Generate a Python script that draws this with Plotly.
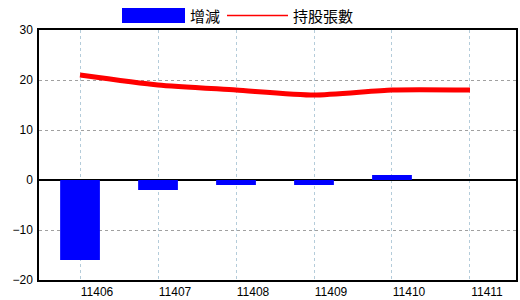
import plotly.graph_objects as go

categories = ["11406", "11407", "11408", "11409", "11410", "11411"]
change = [-16, -2, -1, -1, 1, 0]
holdings = [21, 19, 18, 17, 18, 18]
y_ticks = [-20, -10, 0, 10, 20, 30]

W, H = 520, 300
L, R, T, B = 39, 4, 30, 20
pw, ph = W - L - R, H - T - B


def px(x):
    return (x - L) / pw


def py(y):
    return (H - B - y) / ph


fig = go.Figure()
fig.add_trace(go.Bar(x=categories, y=change, name="增減", marker_color="#0000FF",
                     marker_line_width=0, showlegend=False))
fig.add_trace(go.Scatter(x=categories, y=holdings, name="持股張數", mode="lines",
                         line=dict(color="#FF0000", width=5, shape="spline", smoothing=0.6),
                         showlegend=False))

# manual legend
fig.add_shape(type="rect", xref="paper", yref="paper", x0=px(122), x1=px(185),
              y0=py(23), y1=py(8), fillcolor="#0000FF", line_width=0)
fig.add_shape(type="line", xref="paper", yref="paper", x0=px(227), x1=px(288),
              y0=py(15.5), y1=py(15.5), line=dict(color="#FF0000", width=1.5))
fig.add_annotation(text="增減", xref="paper", yref="paper", x=px(188), y=py(16),
                   xanchor="left", yanchor="middle", showarrow=False,
                   font=dict(family="Noto Sans CJK TC", size=15, color="#000"))
fig.add_annotation(text="持股張數", xref="paper", yref="paper", x=px(291), y=py(16),
                   xanchor="left", yanchor="middle", showarrow=False,
                   font=dict(family="Noto Sans CJK TC", size=15, color="#000"))

fig.update_layout(
    width=W, height=H,
    margin=dict(l=L, r=R, t=T, b=B, autoexpand=False),
    paper_bgcolor="white", plot_bgcolor="white",
    bargap=0.49,
    font=dict(family="Liberation Sans", size=12, color="#000"),
    xaxis=dict(
        type="category",
        range=[-0.526, 5.59],
        automargin=False,
        showgrid=True, gridcolor="#B4CCDA", griddash="dot", gridwidth=1,
        showline=True, linecolor="#000", linewidth=1.5, mirror=True,
        ticks="", ticklabelshift=17, ticklabelstandoff=0,
        tickfont=dict(size=12),
    ),
    yaxis=dict(
        range=[-20, 30],
        tickvals=y_ticks,
        automargin=False,
        showgrid=True, gridcolor="#A0A0A0", griddash="dot", gridwidth=1,
        zeroline=True, zerolinecolor="#000", zerolinewidth=1.5,
        showline=True, linecolor="#000", linewidth=1.5, mirror=True,
        ticks="", ticklabelstandoff=2,
        tickfont=dict(size=12),
    ),
)

fig.write_html("out.html")
